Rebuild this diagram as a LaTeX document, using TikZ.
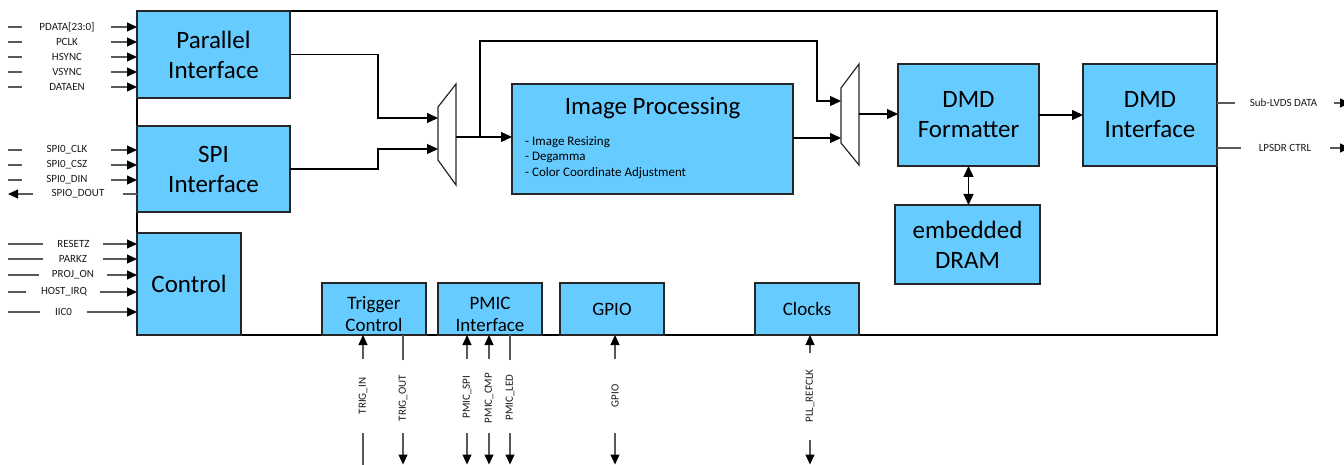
\documentclass[tikz,border=0pt]{standalone}
\usepackage{fontspec}
\setmainfont{Carlito}
\usetikzlibrary{arrows.meta,calc}
\definecolor{blkfill}{HTML}{66CCFF}
\newcommand\fBig{\fontsize{25}{30}\selectfont}
\newcommand\fMid{\fontsize{19}{22}\selectfont}
\newcommand\fBul{\fontsize{13}{15.5}\selectfont}
\newcommand\fSm{\fontsize{11}{13}\selectfont}
\begin{document}
\begin{tikzpicture}[x=1pt,y=-1pt,
  blkstyle/.style={draw=black!85, line width=1.2pt, fill=blkfill, inner sep=0pt, outer sep=0pt, anchor=north west, align=center},
  conn/.style={draw=black, line width=1.3pt},
  carr/.style={conn, -{Triangle[length=11pt,width=10pt]}},
  cdbl/.style={conn, {Triangle[length=11pt,width=10pt]}-{Triangle[length=11pt,width=10pt]}},
  mux/.style={draw=black!85, line width=1.2pt},
  sig/.style={draw=black!65, line width=1.1pt},
  sn/.style={sig},
  sa/.style={sig, -{Triangle[length=10pt,width=9pt,color=black]}},
  sl/.style={font=\fSm, inner sep=0pt, text=black!90}
]
\useasboundingbox (0,0) rectangle (1344,465);

% outer chip
\node[draw=black, line width=1.8pt, minimum width=1080pt, minimum height=324pt, anchor=north west, inner sep=0pt, outer sep=0pt] (chip) at (137,11) {};

% blocks
\node[blkstyle, minimum width=153pt, minimum height=87pt, font=\fBig] (par) at (137,11) {Parallel\\Interface};
\node[blkstyle, minimum width=153pt, minimum height=86pt, font=\fBig] (spi) at (137,126) {SPI\\Interface};
\node[blkstyle, minimum width=104pt, minimum height=102pt, font=\fBig] (ctl) at (137,233) {Control};
\node[blkstyle, minimum width=281pt, minimum height=110pt] (ip) at (512,84) {};
\node[font=\fBig, inner sep=0pt] (iptitle) at (652.5,108) {Image Processing};
\node[font=\fBul, align=left, anchor=west, inner sep=0pt] (ipbul) at (525,157.5) {- Image Resizing\\- Degamma\\- Color Coordinate Adjustment};
\node[blkstyle, minimum width=141pt, minimum height=102pt, font=\fBig] (fmt) at (898,64) {DMD\\Formatter};
\node[blkstyle, minimum width=134pt, minimum height=102pt, font=\fBig] (dmdi) at (1083,64) {DMD\\Interface};
\node[blkstyle, minimum width=145pt, minimum height=79pt, font=\fBig] (dram) at (895,205) {embedded\\DRAM};
\node[blkstyle, minimum width=104pt, minimum height=52pt] (trig) at (322,283) {};
\node[font=\fMid, align=center, inner sep=0pt] (trigt) at ($(trig.center)+(0,5)$) {Trigger\\Control};
\node[blkstyle, minimum width=104pt, minimum height=52pt] (pmic) at (438,283) {};
\node[font=\fMid, align=center, inner sep=0pt] (pmict) at ($(pmic.center)+(0,5)$) {PMIC\\Interface};
\node[blkstyle, minimum width=104pt, minimum height=52pt, font=\fMid] (gpio) at (560,283) {GPIO};
\node[blkstyle, minimum width=104pt, minimum height=52pt, font=\fMid] (clk) at (755,283) {Clocks};

% multiplexers
\coordinate (m1tl) at (438,107); \coordinate (m1bl) at (438,160);
\coordinate (m1tr) at (456,84);  \coordinate (m1br) at (456,185);
\coordinate (m1a) at (438,118); \coordinate (m1b) at (438,149); \coordinate (m1o) at (456,137);
\draw[mux] (m1tl) -- (m1tr) -- (m1br) -- (m1bl) -- cycle;
\coordinate (m2tl) at (841,88); \coordinate (m2bl) at (841,143);
\coordinate (m2tr) at (859,64); \coordinate (m2br) at (859,165);
\coordinate (m2a) at (841,101); \coordinate (m2b) at (841,138); \coordinate (m2o) at (859,114);
\draw[mux] (m2tl) -- (m2tr) -- (m2br) -- (m2bl) -- cycle;

% main connectors
\draw[carr] (par.east) -- ++(88,0) |- (m1a);
\draw[carr] (spi.east) -- ++(88,0) |- (m1b);
\draw[carr] (m1o) -- (ip.west |- m1o);
\coordinate (br) at (480,137);
\draw[carr] (br) -- (480,41) -| (817,101) -- (m2a);
\draw[carr] (ip.east |- m2b) -- (m2b);
\draw[carr] (m2o) -- (fmt.west |- m2o);
\draw[carr] (fmt.east) -- (dmdi.west);
\draw[cdbl] (fmt.south) -- (fmt.south |- dram.north);

% left inputs
\foreach \yy/\lab in {27/{PDATA[23:0]},42/PCLK,57/HSYNC,72/VSYNC,87/DATAEN}{
  \draw[sn] (8,\yy) -- (22,\yy);
  \node[sl] at (67,\yy) {\lab};
  \draw[sa] (111,\yy) -- (par.west |- 0,\yy);
}
\foreach \yy/\lab in {150/SPI0\_CLK,165/SPI0\_CSZ,180/SPI0\_DIN}{
  \draw[sn] (8,\yy) -- (22,\yy);
  \node[sl] at (67,\yy) {\lab};
  \draw[sa] (111,\yy) -- (spi.west |- 0,\yy);
}
\draw[sn] (spi.west |- 0,194) -- (123,194);
\node[sl] at (78,194) {SPIO\_DOUT};
\draw[sa] (33,194) -- (8,194);
\foreach \yy/\lab/\aa/\bb/\lx in {244/RESETZ/43/103/73.5,259/PARKZ/43/103/73,275/PROJ\_ON/39/107/73,292/HOST\_IRQ/26/100/64,312/IIC0/40/87/63.5}{
  \draw[sn] (8,\yy) -- (\aa,\yy);
  \node[sl] at (\lx,\yy) {\lab};
  \draw[sa] (\bb,\yy) -- (ctl.west |- 0,\yy);
}

% right outputs
\draw[sn] (dmdi.east |- 0,103) -- (1235,103);
\node[sl] at (1283.5,103) {Sub-LVDS DATA};
\draw[sa] (1334,103) -- (1350,103);
\draw[sn] (dmdi.east |- 0,148) -- (1241,148);
\node[sl] at (1285,148) {LPSDR CTRL};
\draw[sa] (1330,148) -- (1350,148);

% bottom signals
\foreach \xx/\lab/\blk/\ta/\tb/\ly/\te/\bs in {
  363/TRIG\_IN/trig/sa/sn/396/359/433,
  403/TRIG\_OUT/trig/sn/sa/398/360/433,
  467/PMIC\_SPI/pmic/sa/sa/397/359/433,
  489/PMIC\_CMP/pmic/sa/sa/398/359/433,
  510/PMIC\_LED/pmic/sn/sa/397.5/360/433,
  615/GPIO/gpio/sa/sa/396/359/433,
  810/PLL\_REFCLK/clk/sa/sa/396/353/440}{
  \draw[\ta] (\xx,\te) -- (\xx,0 |- \blk.south);
  \node[sl, rotate=90] at (\xx,\ly) {\lab};
  \draw[\tb] (\xx,\bs) -- (\xx,464.5);
}
\end{tikzpicture}
\end{document}
